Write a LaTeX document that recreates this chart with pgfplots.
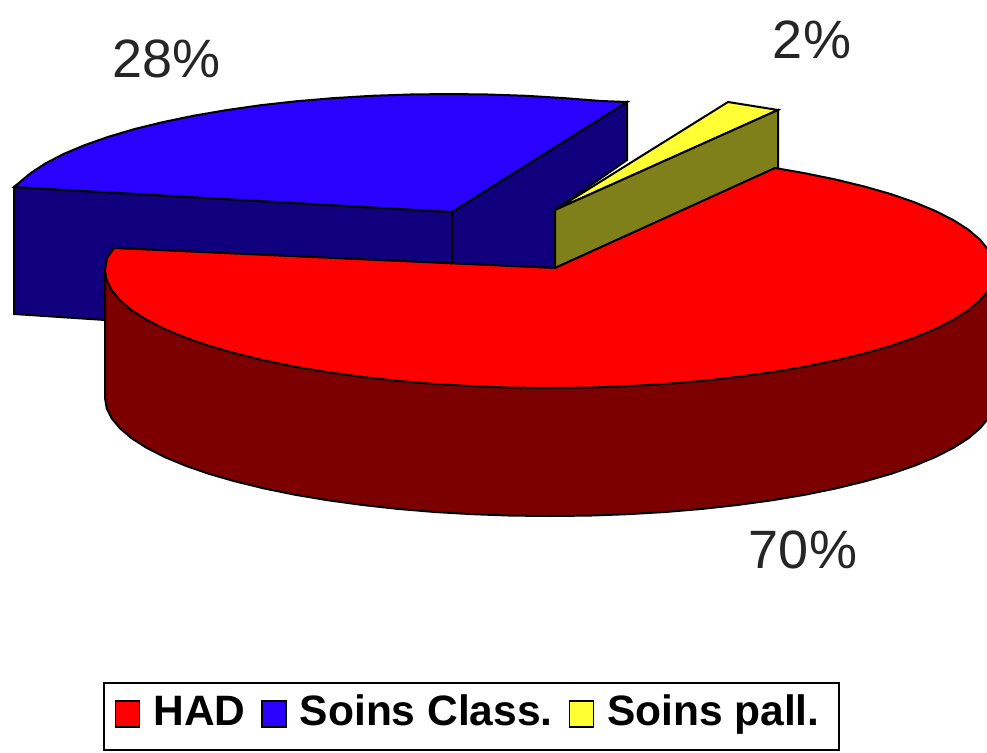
\documentclass[border=0pt]{standalone}
\usepackage{pgfplots}
\pgfplotsset{compat=1.18}
\usepackage{fontspec}
\setmainfont{Liberation Sans}
\definecolor{cred}{HTML}{FF0000}
\definecolor{credd}{HTML}{7C0000}
\definecolor{cblue}{HTML}{2A00FF}
\definecolor{cblued}{HTML}{10007E}
\definecolor{cyel}{HTML}{FFFF33}
\definecolor{cyeld}{HTML}{80801A}
\begin{document}
\begin{tikzpicture}
\begin{axis}[
  scale only axis, width=987pt, height=752pt,
  xmin=0, xmax=987, ymin=0, ymax=752, y dir=reverse,
  axis lines=none, clip=true,
  legend columns=3,
  legend cell align=left,
  legend style={at={(103/987,70/752)}, anchor=north west, draw=black, line width=2pt,
    font=\fontsize{42.5}{46}\selectfont\bfseries, inner xsep=11pt, inner ysep=2pt,
    /tikz/every even column/.append style={column sep=13pt},
    /tikz/every odd column/.append style={column sep=10pt},
    nodes={inner sep=3pt, text depth=20pt, text height=37pt, anchor=base west}},
  legend image code/.code={\draw[#1, line width=1.4pt] (0pt,-2pt) rectangle (24pt,24pt);},
]
\addlegendimage{fill=cred, draw=black}
\addlegendentry{HAD}
\addlegendimage{fill=cblue, draw=black}
\addlegendentry{Soins Class.}
\addlegendimage{fill=cyel, draw=black}
\addlegendentry{Soins pall.\hspace*{5pt}}

% blue slice: outer side, inner side, top
\addplot[forget plot, fill=cblued, draw=black, line width=2pt] coordinates {
 (14,187) (452,212) (452,265) (113,248) (105,270) (105,320) (14,314)} --cycle;
\addplot[forget plot, fill=cblued, draw=black, line width=2pt] coordinates {
 (452,212) (627,102) (627,160) (555,210) (555,268) (452,265)} --cycle;
\addplot[forget plot, fill=cblue, draw=black, line width=2pt] coordinates {
 (452,212) (627,102) (601.2,101) (564.2,98.1) (526.3,95.8) (487.8,94.5) (449,94)
 (410.2,94.5) (371.7,95.8) (333.8,98.1) (296.8,101.2) (260.9,105.2) (226.5,110.1)
 (193.8,115.7) (163,122.1) (134.3,129.1) (108.1,136.9) (84.5,145.2) (63.6,154)
 (45.7,163.3) (30.8,173) (14,187)} --cycle;

% yellow slice: top, side
\addplot[forget plot, fill=cyel, draw=black, line width=2pt] coordinates {
 (555,210) (728,102) (778,110)} --cycle;
\addplot[forget plot, fill=cyeld, draw=black, line width=2pt] coordinates {
 (555,210) (778,110) (778,168) (555,268)} --cycle;

% red slice: side, top
\addplot[forget plot, fill=credd, draw=black, line width=2pt] coordinates {
 (105,270) (105,398) (106.7,408.3) (111.8,418.5) (120.2,428.5) (131.8,438.4) (146.7,447.9)
 (164.6,457) (185.5,465.7) (209.1,473.9) (235.3,481.4) (264,488.4) (294.8,494.7)
 (327.5,500.2) (361.9,504.9) (397.8,508.9) (434.8,512) (472.7,514.2) (511.2,515.6)
 (550,516) (588.8,515.6) (627.3,514.2) (665.2,512) (702.2,508.9) (738.1,504.9)
 (772.5,500.2) (805.2,494.7) (836,488.4) (864.7,481.4) (890.9,473.9) (914.5,465.7)
 (935.4,457) (953.3,447.9) (968.2,438.4) (979.8,428.5) (988.2,418.5) (993.3,408.3)
 (995,398) (995,270)} --cycle;
\addplot[forget plot, fill=cred, draw=black, line width=2pt] coordinates {
 (555,268) (775,168) (805.2,173.3) (836,179.6) (864.7,186.6) (890.9,194.1) (914.5,202.3)
 (935.4,211) (953.3,220.1) (968.2,229.6) (979.8,239.5) (988.2,249.5) (993.3,259.7)
 (995,270) (993.3,280.3) (988.2,290.5) (979.8,300.5) (968.2,310.4) (953.3,319.9)
 (935.4,329) (914.5,337.7) (890.9,345.9) (864.7,353.4) (836,360.4) (805.2,366.7)
 (772.5,372.2) (738.1,376.9) (702.2,380.9) (665.2,384) (627.3,386.2) (588.8,387.6)
 (550,388) (511.2,387.6) (472.7,386.2) (434.8,384) (397.8,380.9) (361.9,376.9)
 (327.5,372.2) (294.8,366.7) (264,360.4) (235.3,353.4) (209.1,345.9) (185.5,337.7)
 (164.6,329) (146.7,319.9) (131.8,310.4) (120.2,300.5) (111.8,290.5) (106.7,280.3)
 (105,270) (107,258) (114,248)} --cycle;

\node[font=\fontsize{54}{57}\selectfont, text=black!85] at (axis cs:166.5,58.5) {28\%};
\node[font=\fontsize{54}{57}\selectfont, text=black!85] at (axis cs:812,40) {2\%};
\node[font=\fontsize{54}{57}\selectfont, text=black!85] at (axis cs:803,550) {70\%};
\end{axis}
\pgfresetboundingbox
\path (0,0) rectangle (987pt,752pt);
\end{tikzpicture}
\end{document}
